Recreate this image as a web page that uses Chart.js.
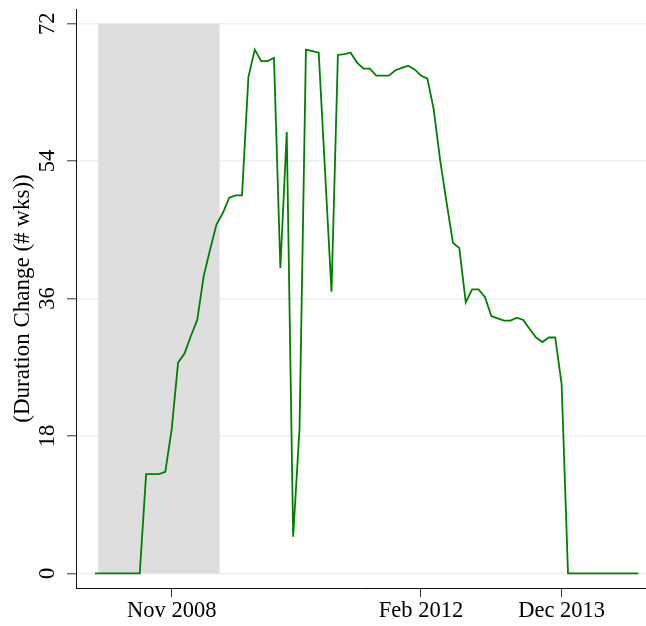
<!DOCTYPE html>
<html>
<head>
<meta charset="utf-8">
<script src="https://cdn.jsdelivr.net/npm/chart.js@4/dist/chart.umd.min.js"></script>
<style>
  html, body { margin: 0; padding: 0; background: #fff; }
  #wrap { width: 646px; height: 626px; position: relative; }
</style>
</head>
<body>
<div id="wrap"><canvas id="c" width="646" height="626"></canvas></div>
<script>
// Monthly observations, Nov 2007 through Dec 2014
const months = [
  'Nov 2007','Dec 2007',
  'Jan 2008','Feb 2008','Mar 2008','Apr 2008','May 2008','Jun 2008','Jul 2008','Aug 2008','Sep 2008','Oct 2008','Nov 2008','Dec 2008',
  'Jan 2009','Feb 2009','Mar 2009','Apr 2009','May 2009','Jun 2009','Jul 2009','Aug 2009','Sep 2009','Oct 2009','Nov 2009','Dec 2009',
  'Jan 2010','Feb 2010','Mar 2010','Apr 2010','May 2010','Jun 2010','Jul 2010','Aug 2010','Sep 2010','Oct 2010','Nov 2010','Dec 2010',
  'Jan 2011','Feb 2011','Mar 2011','Apr 2011','May 2011','Jun 2011','Jul 2011','Aug 2011','Sep 2011','Oct 2011','Nov 2011','Dec 2011',
  'Jan 2012','Feb 2012','Mar 2012','Apr 2012','May 2012','Jun 2012','Jul 2012','Aug 2012','Sep 2012','Oct 2012','Nov 2012','Dec 2012',
  'Jan 2013','Feb 2013','Mar 2013','Apr 2013','May 2013','Jun 2013','Jul 2013','Aug 2013','Sep 2013','Oct 2013','Nov 2013','Dec 2013',
  'Jan 2014','Feb 2014','Mar 2014','Apr 2014','May 2014','Jun 2014','Jul 2014','Aug 2014','Sep 2014','Oct 2014','Nov 2014','Dec 2014'
];

// Change in maximum benefit duration, weeks
const durationChange = [
  0, 0,
  0, 0, 0, 0, 0, 0, 13.0, 13.0, 13.0, 13.3, 18.9, 27.6,
  28.8, 31.1, 33.2, 38.9, 42.4, 45.7, 47.2, 49.2, 49.5, 49.5, 65.0, 68.6,
  67.1, 67.1, 67.5, 40.0, 57.8, 4.8, 19.0, 68.6, 68.4, 68.2, 52.5, 36.9,
  67.9, 68.0, 68.2, 66.9, 66.1, 66.1, 65.2, 65.2, 65.2, 65.9, 66.2, 66.5,
  66.0, 65.2, 64.8, 60.7, 54.1, 48.6, 43.3, 42.6, 35.5, 37.2, 37.2, 36.2,
  33.7, 33.4, 33.1, 33.1, 33.5, 33.2, 32.0, 30.9, 30.3, 30.9, 30.9, 24.8,
  0, 0, 0, 0, 0, 0, 0, 0, 0, 0, 0, 0
];

const xTickLabels = ['Nov 2008', 'Feb 2012', 'Dec 2013'];
const yTickValues = [0, 18, 36, 54, 72];
const recession = ['Dec 2007', 'Jun 2009'];
const yTitle = '(Duration Change (# wks))';

const serif = "'Liberation Serif', 'Times New Roman', Times, serif";

// Grey band over the recession months, behind the series
const recessionShade = {
  id: 'recessionShade',
  beforeDatasetsDraw(chart) {
    const { ctx, scales: { x, y } } = chart;
    const x0 = x.getPixelForValue(months.indexOf(recession[0]) - 0.5);
    const x1 = x.getPixelForValue(months.indexOf(recession[1]) + 0.5);
    const yTop = y.getPixelForValue(yTickValues[yTickValues.length - 1]);
    const yBot = y.getPixelForValue(yTickValues[0]);
    ctx.save();
    ctx.fillStyle = '#dedede';
    ctx.fillRect(x0, yTop, x1 - x0, yBot - yTop);
    ctx.restore();
  }
};

new Chart(document.getElementById('c'), {
  type: 'line',
  data: {
    datasets: [{
      data: durationChange.map((v, i) => ({ x: i, y: v })),
      borderColor: '#008000',
      borderWidth: 1.8,
      pointRadius: 0,
      tension: 0,
      fill: false
    }]
  },
  options: {
    responsive: false,
    animation: false,
    events: [],
    layout: { padding: { top: 9, right: 0, bottom: 0, left: 0 } },
    plugins: { legend: { display: false }, tooltip: { enabled: false } },
    scales: {
      x: {
        type: 'linear',
        min: -2.97,
        max: 86.2,
        afterBuildTicks: s => { s.ticks = xTickLabels.map(l => ({ value: months.indexOf(l) })); },
        afterFit: s => { s.height = 38; s.paddingLeft = 0; s.paddingRight = 0; },
        ticks: {
          callback: v => months[v],
          autoSkip: false,
          maxRotation: 0,
          minRotation: 0,
          padding: 1,
          color: '#000',
          font: { family: serif, size: 22.5 }
        },
        grid: { drawOnChartArea: false, drawTicks: true, tickLength: 9, tickColor: '#333', tickWidth: 1 },
        border: { display: true, color: '#111', width: 1 }
      },
      y: {
        min: -1.91,
        max: 73.92,
        afterBuildTicks: s => { s.ticks = yTickValues.map(v => ({ value: v })); },
        afterFit: s => { s.width = 76; s.paddingTop = 0; s.paddingBottom = 0; },
        ticks: {
          minRotation: 90,
          maxRotation: 90,
          crossAlign: 'center',
          padding: 8,
          color: '#000',
          font: { family: serif, size: 22.5 }
        },
        grid: { color: '#eaf1f4', lineWidth: 1.6, drawTicks: true, tickLength: 9, tickColor: '#333', tickWidth: 1 },
        border: { display: true, color: '#111', width: 1 },
        title: {
          display: true,
          text: yTitle,
          color: '#000',
          font: { family: serif, size: 23 },
          padding: { top: 9, bottom: 0 }
        }
      }
    }
  },
  plugins: [recessionShade]
});
</script>
</body>
</html>
